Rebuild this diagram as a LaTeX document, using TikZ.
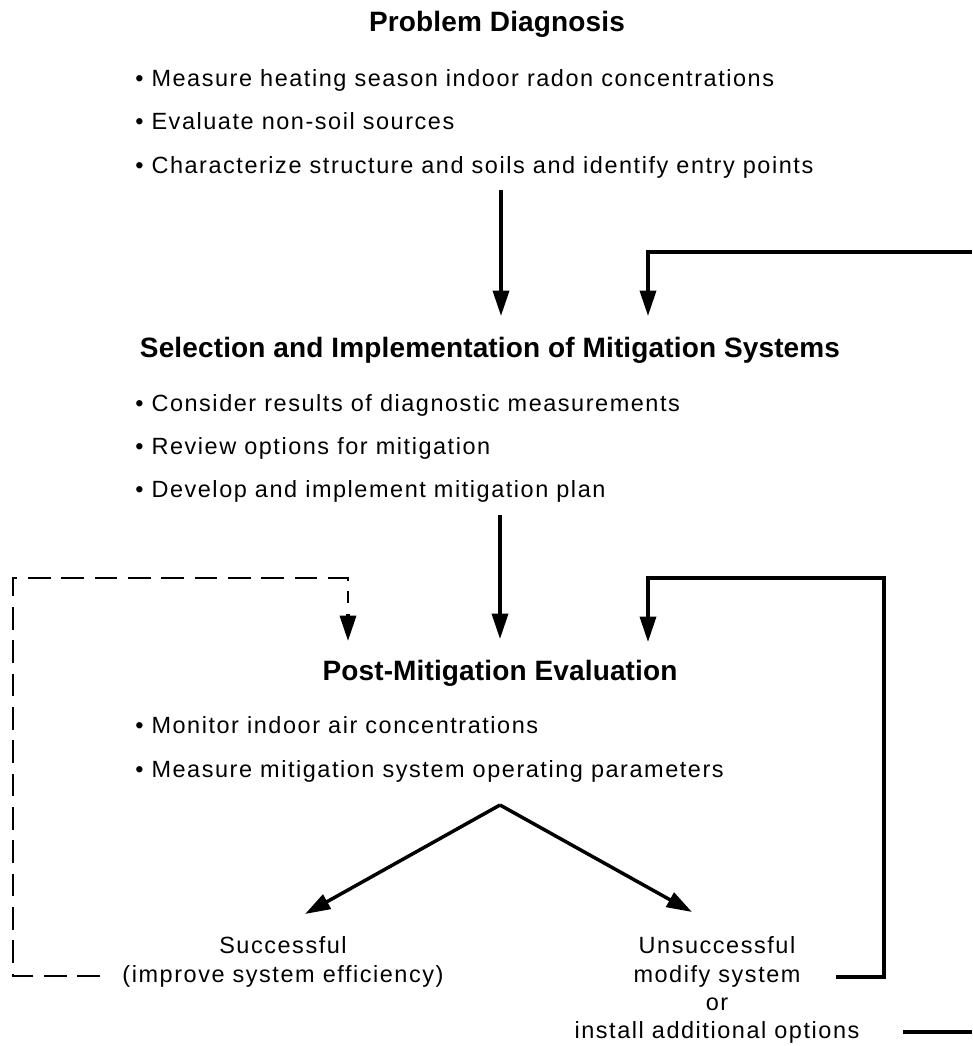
\documentclass[tikz,border=0pt]{standalone}
\usepackage{fontspec}
\setmainfont{Liberation Sans}
\newfontfamily\bodyfont{Liberation Sans}[LetterSpace=6.6]
\newfontfamily\headfont{Liberation Sans}[LetterSpace=0.5]
\usetikzlibrary{arrows.meta}
\tikzset{
  head/.style={font=\headfont\bfseries\fontsize{21}{25}\selectfont, anchor=base, inner sep=0pt},
  item/.style={font=\bodyfont\fontsize{17.6}{21}\selectfont, anchor=base west, inner sep=0pt},
  lbl/.style={font=\bodyfont\fontsize{17.6}{21}\selectfont, anchor=base, inner sep=0pt},
  conn/.style={line width=2.6pt, line join=miter},
  tip/.style={-{Triangle[length=19pt,width=12pt]}},
  arr/.style={conn, tip},
  dsh/.style={line width=2.2pt, dash pattern=on 17pt off 8pt}
}
\begin{document}
\begin{tikzpicture}[x=0.75pt,y=-0.75pt]
\useasboundingbox (0,0) rectangle (972,1046);
% Problem diagnosis
\node[head] (h1) at (497,31) {Problem Diagnosis};
\node[item] (b11) at (135,86) {• Measure heating season indoor radon concentrations};
\node[item] (b12) at (135,129) {• Evaluate non-soil sources};
\node[item] (b13) at (135,173) {• Characterize structure and soils and identify entry points};
% Selection
\node[head] (h2) at (490,357) {Selection and Implementation of Mitigation Systems};
\node[item] (b21) at (135,411) {• Consider results of diagnostic measurements};
\node[item] (b22) at (135,454) {• Review options for mitigation};
\node[item] (b23) at (135,497) {• Develop and implement mitigation plan};
% Post-mitigation
\node[head] (h3) at (500,680) {Post-Mitigation Evaluation};
\node[item] (b31) at (135,733) {• Monitor indoor air concentrations};
\node[item] (b32) at (135,777) {• Measure mitigation system operating parameters};
% outcomes
\node[lbl] (s1) at (283,953) {Successful};
\node[lbl] (s2) at (283,982) {(improve system efficiency)};
\node[lbl] (u1) at (717,953) {Unsuccessful};
\node[lbl] (u2) at (717,982) {modify system};
\node[lbl] (u3) at (717,1010) {or};
\node[lbl] (u4) at (717,1038) {install additional options};
% coordinates
\coordinate (a1s) at (501,190);
\coordinate (a1e) at (501,316);
\coordinate (fbTopR) at (972,252);
\coordinate (fbTopE) at (648,316);
\coordinate (a2s) at (500,515);
\coordinate (a2e) at (500,639);
\coordinate (apex) at (500,805);
\coordinate (tipL) at (305,914);
\coordinate (tipR) at (692,912);
\coordinate (dStart) at (100,976);
\coordinate (dCornerBL) at (13,976);
\coordinate (dCornerTL) at (13,578);
\coordinate (dMid) at (348,603);
\coordinate (dShaft) at (348,614);
\coordinate (dTip) at (348,641);
\coordinate (mStart) at (836,977);
\coordinate (mRight) at (884,977);
\coordinate (mTop) at (648,578);
\coordinate (mTip) at (648,642);
\coordinate (iStart) at (903,1032);
\coordinate (iEnd) at (972,1032);
% connectors
\draw[arr] (a1s) -- (a1e);
\draw[arr] (fbTopR) -| (fbTopE);
\draw[arr] (a2s) -- (a2e);
\draw[arr] (apex) -- (tipL);
\draw[arr] (apex) -- (tipR);
\draw[dsh] (dStart) -- (dCornerBL) -- (dCornerTL) -| (dMid);
\draw[arr] (dShaft) -- (dTip);
\draw[arr] (mStart) -- (mRight) |- (mTop) -- (mTip);
\draw[conn] (iStart) -- (iEnd);
\end{tikzpicture}
\end{document}
